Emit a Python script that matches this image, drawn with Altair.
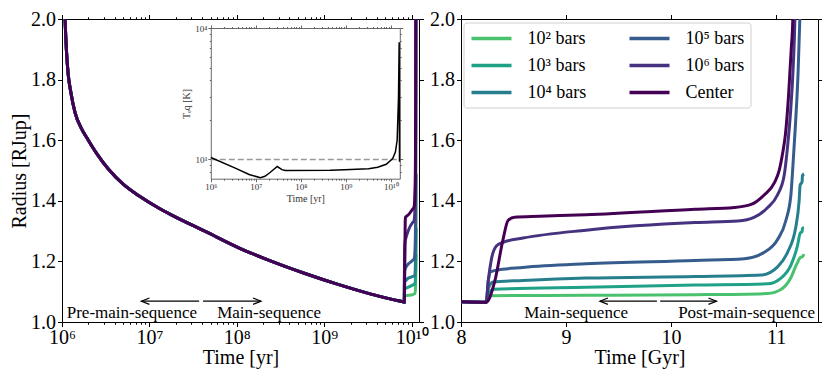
import altair as alt
import pandas as pd

FONT = "Liberation Serif"

# ---------------- data ----------------
SERIES = ["10² bars", "10³ bars", "10⁴ bars", "10⁵ bars", "10⁶ bars", "Center"]
COLORS = ["#4ac16d", "#1fa187", "#277f8e", "#365c8d", "#46327e", "#440154"]

# common early evolution (age in yr, radius in R_Jup)
EARLY_T = [1.07e6, 1.084e6, 1.122e6, 1.175e6, 1.259e6, 1.413e6, 1.66e6, 2.0e6, 2.51e6, 3.39e6,
           5.01e6, 7.73e6, 1.26e7, 1.85e7, 4.42e7, 1.05e8, 2.51e8, 6.03e8, 1.44e9, 3.43e9,
           6.31e9, 8.0e9, 8.24e9]
EARLY_R = [2.05, 2.00, 1.90, 1.82, 1.76, 1.69, 1.64, 1.60, 1.555, 1.505,
           1.455, 1.415, 1.377, 1.351, 1.298, 1.245, 1.200, 1.160, 1.124, 1.092,
           1.073, 1.0665, 1.065]

# late evolution per pressure level (age in Gyr, radius)
G_1E2 = [8.26, 8.29, 9.19, 10.23, 10.92, 11.05, 11.14, 11.20, 11.236, 11.25, 11.267]
R_1E2 = [1.075, 1.087, 1.088, 1.090, 1.094, 1.108, 1.145, 1.193, 1.214, 1.215, 1.224]

G_1E3 = [8.26, 8.306, 9.19, 10.23, 10.92, 11.047, 11.142, 11.204, 11.23, 11.248, 11.252, 11.267]
R_1E3 = [1.09, 1.108, 1.115, 1.122, 1.126, 1.145, 1.188, 1.251, 1.293, 1.298, 1.309, 1.311]

G_1E4 = [8.26, 8.306, 8.59, 9.19, 10.23, 10.858, 11.015, 11.11, 11.189, 11.22, 11.23, 11.248,
         11.252, 11.267]
R_1E4 = [1.11, 1.132, 1.137, 1.145, 1.150, 1.155, 1.182, 1.23, 1.314, 1.399, 1.452, 1.462,
         1.483, 1.489]

G_1E5 = [8.259, 8.28, 8.337, 8.59, 9.19, 10.23, 10.70, 10.889, 11.015, 11.094, 11.142, 11.163,
         11.185, 11.21, 11.227, 11.24]
R_1E5 = [1.134, 1.165, 1.171, 1.18, 1.192, 1.203, 1.209, 1.23, 1.272, 1.335, 1.42, 1.526,
         1.65, 1.82, 2.0, 2.2]

G_1E6 = [8.259, 8.29, 8.337, 8.40, 8.59, 9.19, 10.23, 10.637, 10.795, 10.921, 11.015, 11.078,
         11.11, 11.14, 11.165, 11.18, 11.19]
R_1E6 = [1.134, 1.208, 1.251, 1.263, 1.277, 1.303, 1.328, 1.333, 1.346, 1.378, 1.42, 1.484,
         1.579, 1.70, 1.85, 2.0, 2.2]

G_CEN = [8.321, 8.40, 8.448, 8.51, 8.747, 9.19, 10.23, 10.605, 10.763, 10.889, 10.984, 11.031,
         11.063, 11.09, 11.12, 11.145, 11.16, 11.17]
R_CEN = [1.134, 1.272, 1.335, 1.346, 1.349, 1.354, 1.372, 1.378, 1.388, 1.42, 1.459, 1.501,
         1.557, 1.62, 1.75, 1.9, 2.0, 2.2]

LATE_G = [G_1E2, G_1E3, G_1E4, G_1E5, G_1E6, G_CEN]
LATE_R = [R_1E2, R_1E3, R_1E4, R_1E5, R_1E6, R_CEN]

# inset: equilibrium temperature (yr, K)
TEQ_T = [1.0e6, 3.5e6, 7.1e6, 1.26e7, 1.6e7, 2.1e7, 3.0e7, 3.8e7, 4.5e7, 4.5e8, 9.3e8,
         3.2e9, 5.1e9, 7.9e9, 1.1e10, 1.26e10, 1.38e10, 1.48e10, 1.53e10, 1.556e10]
TEQ_K = [1034, 859, 769, 726, 745, 799, 884, 837, 823, 827, 834,
         851, 874, 920, 1017, 1138, 1400, 3000, 7800, 960]
TEQ_REF = 1000

# annotations
LEFT_TEXT = ["Pre-main-sequence", "Main-sequence"]
LEFT_TEXT_X = [6.3e6, 2.34e8]
RIGHT_TEXT = ["Main-sequence", "Post-main-sequence"]
RIGHT_TEXT_X = [9.096, 10.72]
TEXT_Y = 1.013
LEFT_ARROW_TAIL = [3.71e7, 4.11e7]
LEFT_ARROW_TIP = [8.1e6, 1.89e8]
RIGHT_ARROW_TAIL = [9.866, 9.897]
RIGHT_ARROW_TIP = [9.323, 10.433]
ARROW_DIR = ["L", "R"]
ARROW_Y = 1.0686

Y_TICKS = [1.0, 1.2, 1.4, 1.6, 1.8, 2.0]
GYR_TICKS = [8, 9, 10, 11]

# ---------------- tables ----------------
rows = []
for name, g_list, r_list in zip(SERIES, LATE_G, LATE_R):
    for t, r in zip(EARLY_T, EARLY_R):
        rows.append({"series": name, "t": t, "gyr": t / 1e9, "R": r})
    for g, r in zip(g_list, r_list):
        rows.append({"series": name, "t": g * 1e9, "gyr": g, "R": r})
df = pd.DataFrame(rows)

teq_df = pd.DataFrame({"t": TEQ_T, "T": TEQ_K})
teq_ref_df = pd.DataFrame({"x0": [1.0e6], "x1": [1.58e10], "y": [TEQ_REF]})
anchor_df = pd.DataFrame({"t": [1.0e6], "gyr": [8.0], "R": [1.0], "T": [1000.0]})

left_txt = pd.DataFrame({"x": LEFT_TEXT_X, "y": [TEXT_Y] * 2, "label": LEFT_TEXT})
right_txt = pd.DataFrame({"x": RIGHT_TEXT_X, "y": [TEXT_Y] * 2, "label": RIGHT_TEXT})
left_arr = pd.DataFrame({"tail": LEFT_ARROW_TAIL, "tip": LEFT_ARROW_TIP, "y": [ARROW_Y] * 2, "dir": ARROW_DIR})
right_arr = pd.DataFrame({"tail": RIGHT_ARROW_TAIL, "tip": RIGHT_ARROW_TIP, "y": [ARROW_Y] * 2, "dir": ARROW_DIR})

# ---------------- helpers ----------------
W, H = 357, 303
GAP = 42
PAD_L, PAD_T = 54, 11
SVG_W, SVG_H = 814, 359

MAJ = "abs(log(datum.value)/LN10 - round(log(datum.value)/LN10)) < 0.001"
SUP = "['⁰','¹','²','³','⁴','⁵','⁶','⁷','⁸','⁹','¹⁰']"
LOG_LABEL = MAJ + " ? '10' + " + SUP + "[round(log(datum.value)/LN10)] : ''"


def log_ticks(lo_exp, hi_exp, hi_val):
    vals = []
    for e in range(lo_exp, hi_exp + 1):
        for k in range(1, 10):
            v = k * 10 ** e
            if v <= hi_val * 1.0001:
                vals.append(float(v))
    return vals


def cond(major, minor):
    return {"condition": {"test": MAJ, "value": major}, "value": minor}


def axis(**kw):
    base = dict(grid=False, domainColor="black", domainWidth=1, tickColor="black", tickWidth=1,
                labelColor="black", titleColor="black", labelFont=FONT, titleFont=FONT,
                labelFontSize=20, titleFontSize=20, titleFontWeight=400, labelFontWeight=400,
                labelFlush=False, labelOverlap=False)
    base.update(kw)
    return alt.Axis(**base)


PATH_L = "M 1 -0.4 L 0 0 L 1 0.4"
PATH_R = "M -1 -0.4 L 0 0 L -1 0.4"

color_scale = alt.Scale(domain=SERIES, range=COLORS)


def annotations(txt_df, arr_df, xscale):
    text = alt.Chart(txt_df).mark_text(font=FONT, fontSize=17, baseline="alphabetic",
                                       align="center", color="black").encode(
        x=alt.X("x:Q", scale=xscale, axis=None),
        y=alt.Y("y:Q", scale=y_rad, axis=None),
        text="label:N")
    rule = alt.Chart(arr_df).mark_rule(color="black", strokeWidth=1.2).encode(
        x=alt.X("tail:Q", scale=xscale, axis=None), x2="tip:Q",
        y=alt.Y("y:Q", scale=y_rad, axis=None))
    head_l = alt.Chart(arr_df).transform_filter("datum.dir == 'L'").mark_point(
        shape=PATH_L, size=256, filled=False, color="black", strokeWidth=1.2, opacity=1).encode(
        x=alt.X("tip:Q", scale=xscale, axis=None), y=alt.Y("y:Q", scale=y_rad, axis=None))
    head_r = alt.Chart(arr_df).transform_filter("datum.dir == 'R'").mark_point(
        shape=PATH_R, size=256, filled=False, color="black", strokeWidth=1.2, opacity=1).encode(
        x=alt.X("tip:Q", scale=xscale, axis=None), y=alt.Y("y:Q", scale=y_rad, axis=None))
    return [text, rule, head_l, head_r]


# ---------------- left panel ----------------
X_MAX_LEFT = 1.214e10
x_left = alt.Scale(type="log", domain=[1e6, X_MAX_LEFT], nice=False)
y_rad = alt.Scale(domain=[1.0, 2.0], nice=False, zero=False)
ticks_left = log_ticks(6, 10, X_MAX_LEFT)

lines_left = alt.Chart(df).mark_line(clip=True, strokeWidth=3, interpolate="monotone").encode(
    x=alt.X("t:Q", scale=x_left, axis=axis(values=ticks_left, labelExpr=LOG_LABEL,
                                              tickSize=cond(4.5, 2.2), labelPadding=1,
                                              title="Time [yr]", titlePadding=0)),
    y=alt.Y("R:Q", scale=y_rad, axis=axis(values=Y_TICKS, format=".1f", tickSize=4.5,
                                             labelPadding=2, title="Radius [RJup]", titlePadding=1)),
    color=alt.Color("series:N", scale=color_scale, legend=None),
)
mirror_left = alt.Chart(anchor_df).mark_point(opacity=0).encode(
    x=alt.X("t:Q", scale=x_left, axis=axis(orient="top", values=ticks_left, labels=False,
                                              tickSize=cond(4.5, 2.2), title=None)),
    y=alt.Y("R:Q", scale=y_rad, axis=axis(orient="right", values=Y_TICKS, labels=False,
                                             tickSize=4.5, title=None)),
)
main_left = alt.layer(lines_left, mirror_left, *annotations(left_txt, left_arr, x_left)).resolve_axis(
    x="independent", y="independent")

# inset (pixel frame inside the left panel)
IN_L, IN_R, IN_T, IN_B = 148.8, 337.8, 9.0, 159.7
x_in = alt.Scale(type="log", domain=[1e6, 1.58e10], nice=False, range=[IN_L, IN_R])
y_in = alt.Scale(type="log", domain=[714, 1e4], nice=False, range=[IN_B, IN_T])
ticks_in_x = log_ticks(6, 10, 1.58e10)
ticks_in_y = [800.0, 900.0] + [float(k * 1000) for k in range(1, 11)]
inset_style = dict(labelFontSize=9, titleFontSize=10, domainColor="#444", tickColor="#444",
                   labelColor="#333", titleColor="#333", domainWidth=0.8, tickWidth=0.8,
                   tickSize=cond(3, 1.5))

teq_line = alt.Chart(teq_df).mark_line(color="black", strokeWidth=1.5).encode(
    x=alt.X("t:Q", scale=x_in, axis=axis(orient="bottom", offset=IN_B - H, values=ticks_in_x,
                                            labelExpr=LOG_LABEL, labelPadding=1, title="Time [yr]",
                                            titlePadding=2, **inset_style)),
    y=alt.Y("T:Q", scale=y_in, axis=axis(orient="left", offset=-IN_L, values=ticks_in_y,
                                            labelExpr=LOG_LABEL, labelPadding=1, title="Tₑq [K]",
                                            titlePadding=3, **inset_style)),
)
teq_ref = alt.Chart(teq_ref_df).mark_rule(color="#999999", strokeWidth=1.5, strokeDash=[6, 3]).encode(
    x=alt.X("x0:Q", scale=x_in, axis=None), x2="x1:Q",
    y=alt.Y("y:Q", scale=y_in, axis=None),
)
inset_mirror = alt.Chart(anchor_df).mark_point(opacity=0).encode(
    x=alt.X("t:Q", scale=x_in, axis=axis(orient="top", offset=-IN_T, values=ticks_in_x,
                                            labels=False, title=None, **inset_style)),
    y=alt.Y("T:Q", scale=y_in, axis=axis(orient="right", offset=IN_R - W, values=ticks_in_y,
                                            labels=False, title=None, **inset_style)),
)
inset = alt.layer(teq_ref, teq_line, inset_mirror).resolve_axis(x="independent", y="independent")

left = alt.layer(main_left, inset).resolve_scale(x="independent", y="independent").properties(
    width=W, height=H)

# ---------------- right panel ----------------
x_right = alt.Scale(domain=[8, 11.4], nice=False, zero=False)
df_right = df[df["gyr"] >= 7.9]

lines_right = alt.Chart(df_right).mark_line(clip=True, strokeWidth=3, interpolate="monotone").encode(
    x=alt.X("gyr:Q", scale=x_right, axis=axis(values=GYR_TICKS, format="d", tickSize=4.5,
                                                 labelPadding=1, title="Time [Gyr]", titlePadding=0)),
    y=alt.Y("R:Q", scale=y_rad, axis=axis(values=Y_TICKS, format=".1f", tickSize=4.5,
                                             labelPadding=2, title=None)),
    color=alt.Color("series:N", scale=color_scale, legend=alt.Legend(
        orient="none", legendX=2.5, legendY=3.5, columns=2, title=None,
        symbolType="M -1 0 L 4 0", symbolSize=256, symbolStrokeWidth=3.5,
        labelFont=FONT, labelFontSize=18, labelColor="black", labelOffset=38, labelLimit=300,
        rowPadding=8, columnPadding=36, padding=6, strokeColor="#d0d0d0",
        fillColor="white", cornerRadius=3)),
)
mirror_right = alt.Chart(anchor_df).mark_point(opacity=0).encode(
    x=alt.X("gyr:Q", scale=x_right, axis=axis(orient="top", values=GYR_TICKS, labels=False,
                                                 tickSize=4.5, title=None)),
    y=alt.Y("R:Q", scale=y_rad, axis=axis(orient="right", values=Y_TICKS, labels=False,
                                             tickSize=4, title=None)),
)
right = alt.layer(lines_right, mirror_right, *annotations(right_txt, right_arr, x_right)).resolve_axis(
    x="independent", y="independent").properties(width=W, height=H)

chart = alt.hconcat(left, right, spacing=GAP, bounds="flush").resolve_scale(
    color="independent").configure_view(stroke="transparent").configure_axis(
    titleFontWeight=400, titleFont=FONT).properties(
    autosize=alt.AutoSizeParams(type="none"),
    padding={"left": PAD_L, "top": PAD_T, "right": SVG_W - PAD_L, "bottom": SVG_H - PAD_T})

chart.save("out.html", embed_options={"renderer": "svg", "actions": False})
